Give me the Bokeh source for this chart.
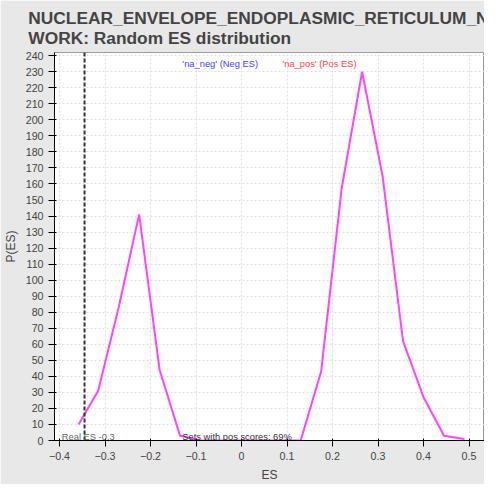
from bokeh.plotting import figure
from bokeh.models import Span, Label, Range1d, FixedTicker
from bokeh.embed import file_html
from bokeh.resources import INLINE

es = [-0.358, -0.315, -0.27, -0.225, -0.18, -0.135, -0.09, -0.045, 0.0, 0.045, 0.09, 0.13, 0.175, 0.22, 0.265, 0.31, 0.355, 0.4, 0.445, 0.49]
pes = [10, 31, 83, 141, 44, 3, 0, 0, 0, 0, 0, 0, 43, 157, 230, 165, 62, 27, 3, 1]
real_es = -0.345

p = figure(width=484, height=484, output_backend="svg", toolbar_location=None,
           x_range=Range1d(-0.411, 0.534), y_range=Range1d(0, 242),
           x_axis_label="ES", y_axis_label="P(ES)",
           title="NUCLEAR_ENVELOPE_ENDOPLASMIC_RETICULUM_NET\nWORK: Random ES distribution")
p.title.align = "center"
p.title.text_font_size = "13pt"
p.title.text_font_style = "bold"
p.title.offset = -4
p.border_fill_color = "#e8e8e8"
p.background_fill_color = "white"
p.min_border_right = 0
p.outline_line_color = "#999999"

p.line(es, pes, line_width=2, color="#ff44ff")
p.add_layout(Span(location=real_es, dimension="height", line_dash="4 2",
                  line_width=2, line_color="#333333"))

p.xaxis.ticker = FixedTicker(ticks=[-0.4, -0.3, -0.2, -0.1, 0, 0.1, 0.2, 0.3, 0.4, 0.5])
p.yaxis.ticker = FixedTicker(ticks=list(range(0, 241, 10)))
for ax in (p.xaxis, p.yaxis):
    ax.major_label_text_font_size = "8pt"
    ax.axis_label_text_font_style = "normal"
    ax.axis_label_text_font_size = "9pt"
    ax.minor_tick_line_color = None
p.grid.grid_line_dash = "2 2"
p.grid.grid_line_color = "#e0e0e0"

p.add_layout(Label(x=-0.395, y=0, text="Real ES -0.3", text_font_size="7pt",
                   text_color="#666666", y_offset=-1))
p.add_layout(Label(x=-0.13, y=0, text="Sets with pos scores: 69%", text_font_size="7pt",
                   text_color="#333333", y_offset=-1))
p.add_layout(Label(x=-0.13, y=238, text="'na_neg' (Neg ES)", text_font_size="7pt",
                   text_color="#4444ff", text_baseline="top"))
p.add_layout(Label(x=0.09, y=238, text="'na_pos' (Pos ES)", text_font_size="7pt",
                   text_color="#ff4444", text_baseline="top"))

open("out.html", "w").write(file_html(p, INLINE))
